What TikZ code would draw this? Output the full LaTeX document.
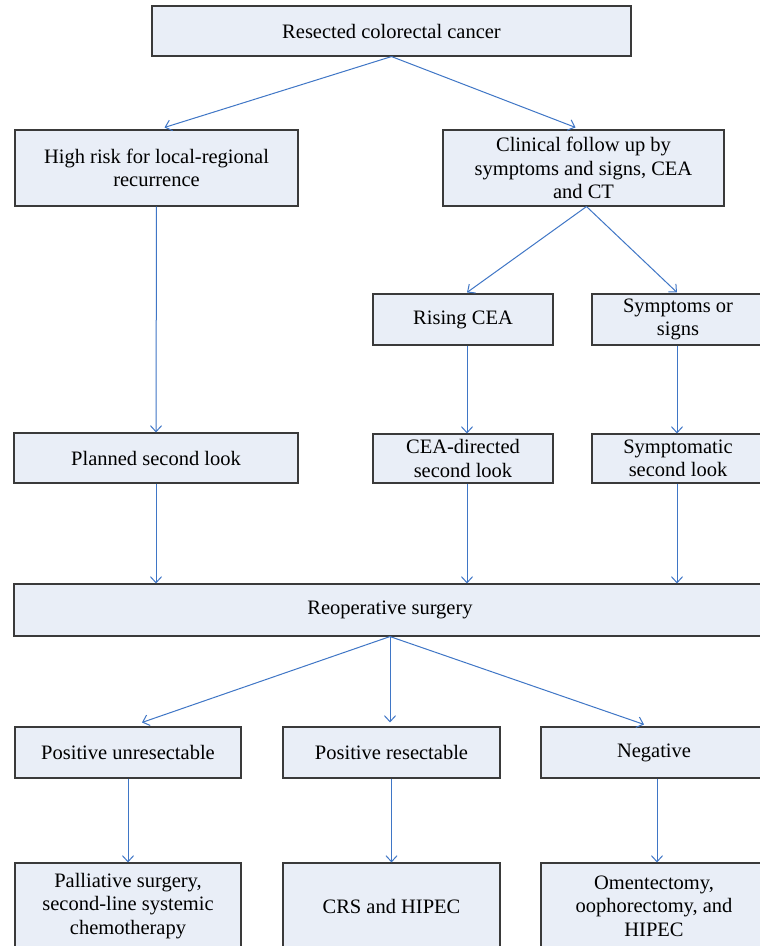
\documentclass[tikz,border=0pt]{standalone}
\usepackage{fontspec}
\setmainfont{Liberation Serif}
\usetikzlibrary{arrows.meta}
\definecolor{boxfill}{HTML}{E9EEF7}
\definecolor{boxline}{HTML}{3A3A3A}
\definecolor{arrowblue}{HTML}{3F76C6}

\begin{document}
\begin{tikzpicture}[x=1pt,y=-1pt,
    stage/.style={draw=boxline,line width=1.1pt,fill=boxfill,align=center,
        inner sep=0pt,font=\fontsize{20.5}{23.5}\selectfont},
    flow/.style={draw=arrowblue,line width=1pt,
        -{Straight Barb[length=6pt,width=11pt,line width=1pt]}}]
    \useasboundingbox (0,0) rectangle (760,946);
    \clip (0,0) rectangle (760,946);
    \fill[white] (0,0) rectangle (760,946);
    % first two levels
    \node[stage,minimum width=479pt,minimum height=50pt] (top) at (391.5,31) {Resected colorectal cancer};
    \node[stage,minimum width=283pt,minimum height=76pt] (risk) at (156.5,168) {High risk for local-regional\\recurrence};
    \node[stage,minimum width=281pt,minimum height=76pt] (follow) at (583.5,168) {Clinical follow up by\\symptoms and signs, CEA\\and CT};
    \node[stage,minimum width=180pt,minimum height=51pt] (rising) at (463,319.5) {Rising CEA};
    \node[stage,minimum width=172pt,minimum height=51pt] (sympt) at (678,319.5) {Symptoms or\\signs};
    % second looks
    \node[stage,minimum width=284pt,minimum height=50pt] (planned) at (156,458) {Planned second look};
    \node[stage,minimum width=180pt,minimum height=49pt] (ceasl) at (463,458.5) {CEA-directed\\second look};
    \node[stage,minimum width=172pt,minimum height=49pt] (symsl) at (678,458.5) {Symptomatic\\second look};
    \node[stage,minimum width=752pt,minimum height=52pt] (reop) at (390,610) {Reoperative surgery};
    % findings and treatment
    \node[stage,minimum width=226pt,minimum height=51pt] (posun) at (128,752.5) {Positive unresectable};
    \node[stage,minimum width=217pt,minimum height=51pt] (posre) at (391.5,752.5) {Positive resectable};
    \node[stage,minimum width=226pt,minimum height=51pt] (neg) at (654,752.5) {Negative};
    \node[stage,minimum width=226pt,minimum height=86pt] (pall) at (128,906) {Palliative surgery,\\second-line systemic\\chemotherapy};
    \node[stage,minimum width=217pt,minimum height=86pt] (crs) at (391.5,906) {CRS and HIPEC};
    \node[stage,minimum width=226pt,minimum height=86pt] (oment) at (654,906) {Omentectomy,\\oophorectomy, and\\HIPEC};

    \draw[flow] (top.south) -- ([xshift=8pt,yshift=2pt]risk.north);
    \draw[flow] (top.south) -- ([xshift=-8pt,yshift=2pt]follow.north);
    \draw[flow] ([xshift=3pt]follow.south) -- ([xshift=4pt,yshift=1pt]rising.north);
    \draw[flow] ([xshift=3pt]follow.south) -- ([xshift=-1pt,yshift=1pt]sympt.north);
    \draw[flow] (risk.south) -- (planned.north);
    \draw[flow] ([xshift=4pt]rising.south) -- ([xshift=4pt]ceasl.north);
    \draw[flow] ([xshift=-1pt]sympt.south) -- ([xshift=-1pt]symsl.north);
    \foreach \from/\dx in {planned/0,ceasl/4,symsl/-1} {
        \draw[flow] ([xshift=\dx pt]\from.south) -- ([xshift=\dx pt]\from.south |- reop.north);
    }
    \draw[flow] (reop.south) -- ([xshift=14pt,yshift=4pt]posun.north);
    \draw[flow] (reop.south) -- ([yshift=4pt]reop.south |- posre.north);
    \draw[flow] (reop.south) -- ([xshift=-10pt,yshift=2pt]neg.north);
    \draw[flow] (posun.south) -- (pall.north);
    \draw[flow] (posre.south) -- (crs.north);
    \draw[flow] ([xshift=3pt]neg.south) -- ([xshift=3pt]oment.north);
\end{tikzpicture}
\end{document}
